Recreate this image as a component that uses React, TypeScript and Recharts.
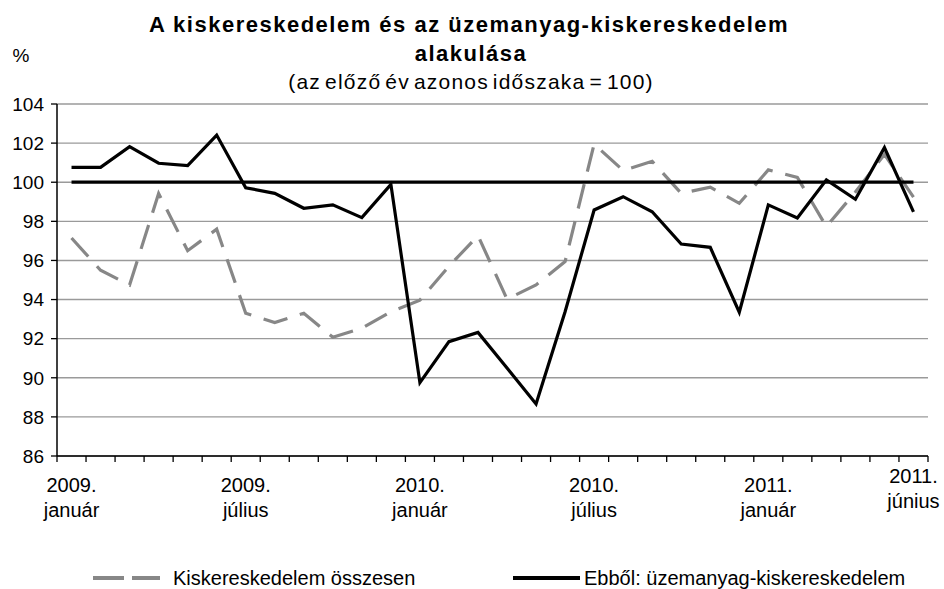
import React from "react";
import { LineChart, Line, XAxis, YAxis, CartesianGrid, Legend } from "recharts";

// havi adatok, 2009. január – 2011. június (előző év azonos időszaka = 100)
const months = [
  "2009. január", "2009. február", "2009. március", "2009. április", "2009. május", "2009. június",
  "2009. július", "2009. augusztus", "2009. szeptember", "2009. október", "2009. november", "2009. december",
  "2010. január", "2010. február", "2010. március", "2010. április", "2010. május", "2010. június",
  "2010. július", "2010. augusztus", "2010. szeptember", "2010. október", "2010. november", "2010. december",
  "2011. január", "2011. február", "2011. március", "2011. április", "2011. május", "2011. június",
];

const retailTotal = [
  97.15, 95.5, 94.74, 99.42, 96.5, 97.6, 93.3, 92.82, 93.3, 92.07, 92.53, 93.38,
  93.97, 95.7, 97.27, 94.02, 94.75, 95.94, 101.95, 100.6, 101.07, 99.43, 99.75, 98.92,
  100.63, 100.25, 97.73, 99.5, 101.42, 99.24,
];

const fuelRetail = [
  100.76, 100.76, 101.82, 100.97, 100.85, 102.41, 99.72, 99.43, 98.67, 98.84, 98.19, 99.89,
  89.75, 91.85, 92.32, 90.5, 88.66, 93.38, 98.58, 99.26, 98.49, 96.84, 96.67, 93.35,
  98.84, 98.17, 100.12, 99.13, 101.77, 98.48,
];

const baseLevel = [
  100, 100, 100, 100, 100, 100, 100, 100, 100, 100, 100, 100, 100, 100, 100,
  100, 100, 100, 100, 100, 100, 100, 100, 100, 100, 100, 100, 100, 100, 100,
];

const shownMonths = ["2009. január", "2009. július", "2010. január", "2010. július", "2011. január", "2011. június"];
const yTicks = [86, 88, 90, 92, 94, 96, 98, 100, 102, 104];
const legendOrder = ["retail", "fuel"];

const data = months.map((m, i) => ({
  month: m,
  retail: retailTotal[i],
  base: baseLevel[i],
  fuel: fuelRetail[i],
}));

const FONT = '"Liberation Sans", Arial, Helvetica, sans-serif';
const W = 944;
const H = 589;
const HALF = 14.52; // fél kategória-szélesség, a beosztások a hónapok között vannak

function MonthTick(props: any) {
  const { x, y, payload, index } = props;
  const label: string = payload.value;
  const last = index === months.length - 1;
  const [yr, mo] = label.split(" ");
  const dy = last ? -9 : 0;
  return (
    <g>
      <line x1={x - HALF} x2={x - HALF} y1={y} y2={y + 6} stroke="#000" strokeWidth={1.3} />
      {last && <line x1={x + HALF} x2={x + HALF} y1={y} y2={y + 6} stroke="#000" strokeWidth={1.3} />}
      {shownMonths.includes(label) && (
        <text x={x} y={y + 36 + dy} textAnchor="middle" fontSize={20} fill="#000" fontFamily={FONT}>
          <tspan x={x}>{yr}</tspan>
          <tspan x={x} dy={25}>{mo}</tspan>
        </text>
      )}
    </g>
  );
}

function LegendBox(props: any) {
  const all = props.payload ?? [];
  const items = legendOrder
    .map((k) => all.find((p: any) => p.dataKey === k))
    .filter(Boolean);
  const iconX = [93, 513];
  const textX = [173, 584];
  return (
    <div style={{ position: "relative", width: W, height: 30, fontFamily: FONT, fontSize: 20, color: "#000" }}>
      {items.map((it: any, i: number) => (
        <React.Fragment key={it.dataKey}>
          <svg style={{ position: "absolute", left: iconX[i], top: 8 }} width={67} height={14}>
            <line
              x1={0} x2={67} y1={7} y2={7}
              stroke={it.color}
              strokeWidth={4}
              strokeDasharray={it.dataKey === "retail" ? "31 8" : undefined}
            />
          </svg>
          <span style={{ position: "absolute", left: textX[i], top: 3, whiteSpace: "nowrap", lineHeight: "24px" }}>
            {it.value}
          </span>
        </React.Fragment>
      ))}
    </div>
  );
}

export default function App() {
  return (
    <div style={{ position: "absolute", left: 0, top: 0, width: W, height: H, background: "#fff" }}>
      <LineChart width={W} height={H} data={data} margin={{ top: 104, right: 16, bottom: 0, left: 0 }}>
        <CartesianGrid vertical={false} stroke="#9a9a9a" strokeWidth={1.4} />
        <XAxis
          dataKey="month"
          interval={0}
          height={133}
          padding={{ left: HALF, right: HALF }}
          tickSize={0}
          tickMargin={0}
          tickLine={false}
          axisLine={{ stroke: "#000", strokeWidth: 1.5 }}
          tick={<MonthTick />}
        />
        <YAxis
          domain={[86, 104]}
          ticks={yTicks}
          interval={0}
          width={57}
          tickSize={6}
          tickMargin={7}
          tickLine={{ stroke: "#000", strokeWidth: 1.3 }}
          axisLine={{ stroke: "#000", strokeWidth: 1.5 }}
          tick={{ fontSize: 19, fill: "#000", fontFamily: FONT }}
        />
        <YAxis
          yAxisId="frame"
          orientation="right"
          width={0}
          tick={false}
          tickLine={false}
          axisLine={{ stroke: "#8a8a8a", strokeWidth: 1.5 }}
        />
        <Legend
          layout="horizontal"
          align="center"
          verticalAlign="middle"
          wrapperStyle={{ top: 563, left: 0, width: W, height: 30 }}
          content={<LegendBox />}
        />
        <Line
          type="linear"
          dataKey="retail"
          name="Kiskereskedelem összesen"
          stroke="#878787"
          strokeWidth={3.2}
          strokeDasharray="25 13"
          dot={false}
          isAnimationActive={false}
        />
        <Line
          type="linear"
          dataKey="base"
          name="base"
          legendType="none"
          stroke="#000"
          strokeWidth={3.2}
          dot={false}
          isAnimationActive={false}
        />
        <Line
          type="linear"
          dataKey="fuel"
          name="Ebből: üzemanyag-kiskereskedelem"
          stroke="#000"
          strokeWidth={3.2}
          dot={false}
          isAnimationActive={false}
        />
      </LineChart>
      <svg
        width={W}
        height={100}
        style={{ position: "absolute", left: 0, top: 0, pointerEvents: "none" }}
        fontFamily={FONT}
      >
        <text x={469} y={32} textAnchor="middle" fontSize={22} fontWeight="bold" letterSpacing={1.5}>
          A kiskereskedelem és az üzemanyag-kiskereskedelem
        </text>
        <text x={471} y={61} textAnchor="middle" fontSize={22} fontWeight="bold" letterSpacing={1.5}>
          alakulása
        </text>
        <text x={471} y={89} textAnchor="middle" fontSize={21} letterSpacing={1.2} wordSpacing={-3}>
          (az előző év azonos időszaka = 100)
        </text>
        <text x={21} y={62} textAnchor="middle" fontSize={19}>
          %
        </text>
      </svg>
    </div>
  );
}
